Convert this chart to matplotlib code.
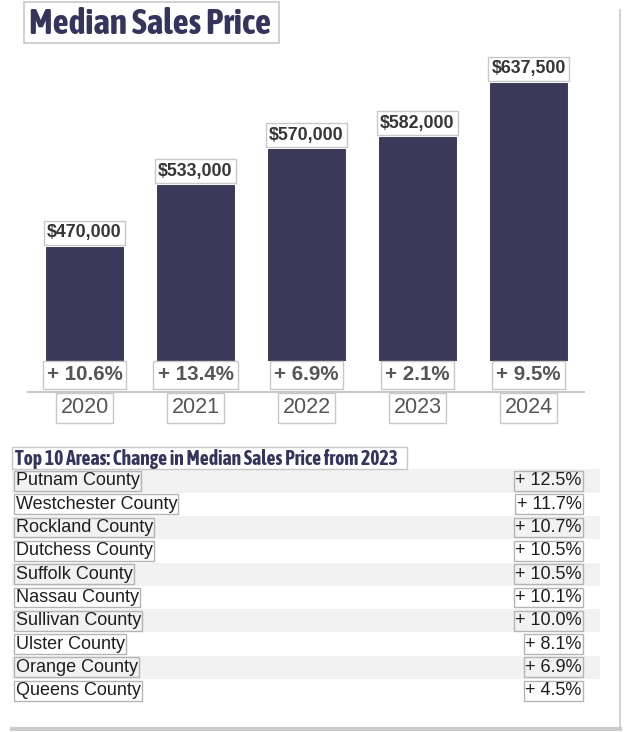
import matplotlib
matplotlib.use("Agg")
import numpy as np
import matplotlib.pyplot as plt
from matplotlib import font_manager
from matplotlib.font_manager import FontProperties
from matplotlib.lines import Line2D
from matplotlib.patches import Rectangle

# data
years = ["2020", "2021", "2022", "2023", "2024"]
median_price = [470000, 533000, 570000, 582000, 637500]
yoy_change = ["+ 10.6%", "+ 13.4%", "+ 6.9%", "+ 2.1%", "+ 9.5%"]

areas = ["Putnam County", "Westchester County", "Rockland County", "Dutchess County",
         "Suffolk County", "Nassau County", "Sullivan County", "Ulster County",
         "Orange County", "Queens County"]
area_change = ["+ 12.5%", "+ 11.7%", "+ 10.7%", "+ 10.5%", "+ 10.5%",
               "+ 10.1%", "+ 10.0%", "+ 8.1%", "+ 6.9%", "+ 4.5%"]

NAVY = "#3b3a5a"
TITLE_C = "#34345c"
EDGE = "#c8c8c8"

W, H = 624, 732
plt.rcParams["font.family"] = ["Liberation Sans", "DejaVu Sans"]

# headings use a narrow bold face when one is installed (not DejaVu, it is too wide)
narrow = None
for f in font_manager.fontManager.ttflist:
    fn = f.fname.lower()
    if ("narrow" in fn or "condensed" in fn) and "dejavu" not in fn and "bold" in fn \
            and "italic" not in fn and "oblique" not in fn:
        narrow = f.fname
        break
if narrow:
    title_fp = FontProperties(fname=narrow, size=25.5)
    sub_fp = FontProperties(fname=narrow, size=14.1)
else:
    title_fp = FontProperties(family="Liberation Sans", weight="bold", size=19.5)
    sub_fp = FontProperties(family="Liberation Sans", weight="bold", size=10.8)


def px_box(left, top, right, bottom):
    # pixel box (from top-left) -> figure fraction rect
    return [left / W, 1 - bottom / H, (right - left) / W, (bottom - top) / H]


def frame(left, top, right, bottom, lw=1.0):
    l, b, w, h = px_box(left, top, right, bottom)
    fig.add_artist(Rectangle((l, b), w, h, transform=fig.transFigure,
                             fc="white", ec=EDGE, lw=lw, zorder=0.5))


fig = plt.figure(figsize=(W / 100, H / 100), dpi=100)

box = dict(boxstyle="square,pad=0.2", fc="white", ec=EDGE, lw=1)

# title
frame(24, 2, 279, 43, lw=1.2)
fig.text(29 / W, 1 - 34 / H, "Median Sales Price", ha="left", va="baseline",
         fontproperties=title_fp, color=TITLE_C)

# bar chart
ax = fig.add_axes(px_box(29, 50, 584, 361))
x = np.arange(len(years))
ax.bar(x, median_price, width=0.7, color=NAVY, edgecolor="#2e2d48", lw=0.6)
ax.set_xlim(-0.5, len(years) - 0.5)
ax.set_ylim(353560, 671200)
ax.axis("off")

for i, v in enumerate(median_price):
    ax.annotate(f"${v:,}", xy=(i, v), xytext=(0, 14), textcoords="offset pixels",
                ha="center", va="center", size=12.8, weight="bold", color="#353535",
                bbox=box)
    ax.annotate(yoy_change[i], xy=(i, 0), xycoords=("data", "axes fraction"),
                xytext=(0, -14), textcoords="offset pixels", ha="center", va="center",
                size=14.8, weight="bold", color="#555555", bbox=box)
    ax.annotate(years[i], xy=(i, 0), xycoords=("data", "axes fraction"),
                xytext=(0, -47), textcoords="offset pixels", ha="center", va="center",
                size=15.5, color="#555555", bbox=box)

fig.add_artist(Line2D([28 / W, 584 / W], [1 - 392 / H] * 2, color=EDGE, lw=1.5))

# table of areas
frame(12, 447, 407, 469)
fig.text(15 / W, 1 - 465 / H, "Top 10 Areas: Change in Median Sales Price from 2023",
         ha="left", va="baseline", fontproperties=sub_fp, color=TITLE_C)

tax = fig.add_axes(px_box(12, 469.3, 600, 702.3))
rows = np.arange(len(areas))
row_colors = ["#f2f2f2" if i % 2 == 0 else "white" for i in rows]
tax.barh(rows, 1, height=1, left=0, color=row_colors)
tax.set_xlim(0, 1)
tax.set_ylim(len(areas) - 0.5, -0.5)
tax.axis("off")

cell = dict(boxstyle="square,pad=0.08", fc="none", ec="#b4b4b4", lw=1)
for i in rows:
    tax.text(0.006, i, areas[i], ha="left", va="center", size=13, color="#1e1e1e",
             bbox=cell)
    tax.text(0.969, i, area_change[i], ha="right", va="center", size=13,
             color="#1e1e1e", bbox=cell)

# outer frame
fig.add_artist(Line2D([620 / W] * 2, [1 - 10 / H, 1 - 729 / H], color="#d4d4d4", lw=1.5))
fig.add_artist(Line2D([12 / W, 620 / W], [1 - 729 / H] * 2, color="#cccccc", lw=3))

fig.savefig("out.png", dpi=100)
